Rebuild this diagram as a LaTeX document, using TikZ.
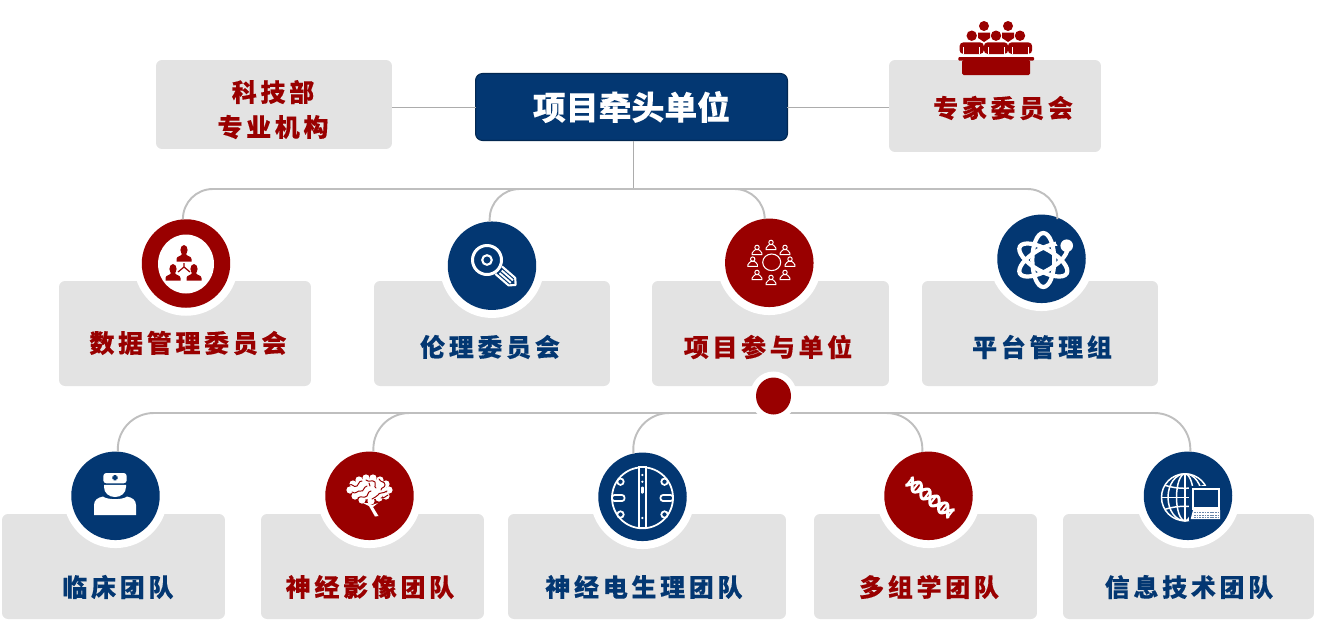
\documentclass[tikz,border=0pt]{standalone}
\usepackage{fontspec}
\usepackage{xcolor}
\usetikzlibrary{shapes.geometric}
\newfontfamily\cjkfont[BoldFeatures={FakeBold=0.15}]{Noto Sans CJK SC}
\newfontfamily\cjkwide[LetterSpace=15,BoldFeatures={FakeBold=0.25}]{Noto Sans CJK SC}
\definecolor{crimson}{HTML}{990000}
\definecolor{navy}{HTML}{033772}
\definecolor{panel}{HTML}{E3E3E3}
\definecolor{wire}{HTML}{BFBFBF}
\tikzset{
	greybox/.style={
		fill=panel,
		rounded corners=0.12cm,
		inner sep=0,
		outer sep=0
	},
	tag/.style={
		font=\fontsize{14.2}{16}\selectfont\cjkwide\bfseries,
		inner sep=0,
		text=#1
	},
	disc/.style={
		circle,
		fill=#1,
		minimum size=1.77cm,
		inner sep=0,
		outer sep=0,
		preaction={draw=white, line width=0.32cm}
	},
	thinlink/.style={draw=wire!90!black, line width=0.45pt},
	buslink/.style={draw=wire, line width=1.1pt},
	person/.pic={
		\fill (0,0) ellipse (3.6 and 5);
		\fill (-7.5,11.5) -- (-7.5,9) .. controls (-7.5,6) and (-3,6.5) .. (-2,4) -- (2,4) .. controls (3,6.5) and (7.5,6) .. (7.5,9) -- (7.5,11.5) -- cycle;
	},
	guest/.pic={
		\draw[line width=0.55pt] (0,-2.6) circle (2.2);
		\draw[line width=0.55pt] (-4.8,4.6) -- (-4.8,3) .. controls (-4.8,0.8) and (-2,1) .. (-1.6,-0.4) -- (1.6,-0.4) .. controls (2,1) and (4.8,0.8) .. (4.8,3) -- (4.8,4.6) -- cycle;
	}
}

\begin{document}
\begin{tikzpicture}[x=0.02cm,y=-0.02cm]
			\useasboundingbox (0,0) rectangle (1318,640);
			% grey panels
			\node[greybox, minimum width=4.72cm, minimum height=1.78cm] (kejibox) at (274,104.5) {};
			\node[greybox, minimum width=4.24cm, minimum height=1.84cm] (expertbox) at (995,106) {};
			\node[greybox, minimum width=5.04cm, minimum height=2.10cm] (databox) at (185,333.5) {};
			\node[greybox, minimum width=4.72cm, minimum height=2.10cm] (ethicsbox) at (492,333.5) {};
			\node[greybox, minimum width=4.74cm, minimum height=2.10cm] (unitbox) at (770.5,333.5) {};
			\node[greybox, minimum width=4.72cm, minimum height=2.10cm] (platbox) at (1040,333.5) {};
			\node[greybox, minimum width=4.46cm, minimum height=2.10cm] (clinicbox) at (113.5,566.5) {};
			\node[greybox, minimum width=4.46cm, minimum height=2.10cm] (imagebox) at (372.5,566.5) {};
			\node[greybox, minimum width=5.56cm, minimum height=2.10cm] (eegbox) at (647,566.5) {};
			\node[greybox, minimum width=4.46cm, minimum height=2.10cm] (omicsbox) at (925.5,566.5) {};
			\node[greybox, minimum width=5.02cm, minimum height=2.10cm] (infobox) at (1188.5,566.5) {};
			\node[fill=navy, draw=navy!70!black, line width=0.6pt, rounded corners=0.14cm, minimum width=6.24cm, minimum height=1.34cm, inner sep=0, outer sep=0, text=white, font=\fontsize{18.7}{22}\selectfont\cjkfont\bfseries] (lead) at (631.5,107) {项目牵头单位};
			% round badges
			\node[disc=crimson] (datadisc) at (186,263.5) {};
			\node[disc=navy] (ethicsdisc) at (492,265.7) {};
			\node[disc=crimson] (unitdisc) at (769.3,262.8) {};
			\node[disc=navy] (platdisc) at (1041.5,258.8) {};
			\node[disc=navy] (clinicdisc) at (115.5,495.8) {};
			\node[disc=crimson] (imagedisc) at (369.5,495.8) {};
			\node[disc=navy] (eegdisc) at (642.5,496.8) {};
			\node[disc=crimson] (omicsdisc) at (928.5,495.8) {};
			\node[disc=navy] (infodisc) at (1188,495.8) {};
			% connectors
			\coordinate (topbus) at (633,189);
			\coordinate (lowbus) at (773,413);
			\draw[thinlink] (lead.west) -- (lead.west -| kejibox.east);
			\draw[thinlink] (lead.east) -- (lead.east -| expertbox.west);
			\draw[thinlink] (topbus |- lead.south) -- (topbus);
			\draw[buslink, rounded corners=0.6cm] (datadisc.94) |- (topbus) -| (platdisc.69);
			\draw[buslink, rounded corners=0.6cm] (ethicsdisc.93) |- (topbus) -| (unitdisc.96);
			\draw[buslink, rounded corners=0.72cm] (clinicdisc.87) |- (lowbus) -| (infodisc.87);
			\draw[buslink, rounded corners=0.72cm] (imagedisc.85) |- (lowbus) -| (omicsdisc.98);
			\draw[buslink, rounded corners=0.72cm] (eegdisc.102) |- (lowbus);
			\node[fill=crimson, ellipse, minimum width=0.70cm, minimum height=0.74cm, inner sep=0, outer sep=0, preaction={draw=white, line width=0.24cm}] (hubdot) at (773.5,396) {};
			% labels
			\node[tag=crimson] (keji1) at (273,92) {科技部};
			\node[tag=crimson] (keji2) at (273,127) {专业机构};
			\node[tag=crimson] (expert) at (1003,108) {专家委员会};
			\node[tag=crimson] (datatag) at (188,343) {数据管理委员会};
			\node[tag=navy] (ethicstag) at (490,347) {伦理委员会};
			\node[tag=crimson] (unittag) at (768,347) {项目参与单位};
			\node[tag=navy] (plattag) at (1042,347) {平台管理组};
			\node[tag=navy] (clinictag) at (118,587) {临床团队};
			\node[tag=crimson] (imagetag) at (370,587) {神经影像团队};
			\node[tag=navy] (eegtag) at (644,587) {神经电生理团队};
			\node[tag=crimson] (omicstag) at (929,587) {多组学团队};
			\node[tag=navy] (infotag) at (1189,587) {信息技术团队};
			% expert board
			\foreach \hx in {984,1008} {
				\fill[crimson] (\hx,26) circle (5);
				\fill[crimson] (\hx-6,32.5) -- (\hx+6,32.5) -- (\hx+6,38) -- (\hx,42) -- (\hx-6,38) -- cycle;
			}
			\foreach \hx in {971.7,996,1020} {
				\fill[crimson] (\hx,35.7) circle (5.2);
				\fill[crimson, rounded corners=0.08cm] (\hx-12.2,54) -- (\hx-12.2,42.3) -- (\hx+12.2,42.3) -- (\hx+12.2,54) -- cycle;
				\draw[white, line width=0.4pt] (\hx-8,54) -- (\hx-8,47);
				\draw[white, line width=0.4pt] (\hx+8,54) -- (\hx+8,47);
			}
			\fill[crimson, rounded corners=0.02cm] (958.3,57) rectangle (1034,60.7);
			\fill[crimson, rounded corners=0.03cm] (962,60) rectangle (1030,75);
			% data icon
			\fill[white] (186,264) ellipse (28 and 29.5);
			\pic[color=crimson] at (184,250) {person};
			\pic[color=crimson] at (173,269) {person};
			\pic[color=crimson] at (194,269) {person};
			\draw[crimson, line width=0.7pt] (184,263) -- (184,267) -- (178,272) (184,267) -- (190,272);
			% key icon
			\draw[white, line width=1.7pt] (487,260) circle (14.5);
			\draw[white, line width=1.2pt] (487,260) circle (4.8);
			\begin{scope}[shift={(487,260)}, rotate=-41]
				\draw[white, line width=1.2pt, line join=round] (15.5,-5) -- (33,-5) -- (38,0) -- (33,5) -- (15.5,5);
				\draw[white, line width=1.1pt] (18,-1.7) -- (33,-1.7) (18,1.7) -- (33,1.7);
			\end{scope}
			% circle of members icon
			\draw[white, line width=0.6pt] (771.7,262.3) ellipse (9 and 8.3);
			\foreach \gx/\gy in {771/245, 771/280, 752.7/261.7, 790/261.7, 757/250, 785/250, 757/275, 785/275} {
				\pic[color=white] at (\gx,\gy) {guest};
			}
			% atom icon
			\begin{scope}[shift={(1043.3,260)}]
				\foreach \turn in {0,60,120} {
					\draw[white, line width=2.4pt, rotate=\turn] (0,0) ellipse (11 and 27);
				}
			\end{scope}
			\fill[navy] (1064.5,240) circle (9);
			\fill[white] (1066.7,245.7) circle (6.3);
			% doctor icon
			\fill[white, rounded corners=0.06cm] (103.3,483.3) -- (103.3,473) -- (126.7,473) -- (126.7,483.3) -- cycle;
			\fill[navy] (113.6,475) rectangle (116.4,480.4) (112.3,476.3) rectangle (117.7,479.1);
			\fill[white] (104,484.8) -- (126,484.8) -- (126,487) .. controls (126,493) and (121,497) .. (115,497) .. controls (109,497) and (104,493) .. (104,487) -- cycle;
			\fill[white] (94,515) -- (94,505) .. controls (94,500) and (98,497.5) .. (103,496.5) .. controls (107,500) and (123,500) .. (127,496.5) .. controls (132,497.5) and (136,500) .. (136,505) -- (136,515) -- cycle;
			% brain icon
			\foreach \bx/\by in {350/490, 353/484, 359/480, 366/478, 373/478, 380/480, 386/484, 389/490, 386/496, 379/498, 371/501, 362/500, 355/496} {
				\fill[white] (\bx,\by) circle (3.6);
			}
			\fill[white] (369,489) ellipse (18 and 10.5);
			\begin{scope}[crimson, line width=0.55pt, line cap=round]
				\draw (349,485) .. controls (353,483) and (353,488) .. (357,486) .. controls (360,484) and (358,481) .. (362,481);
				\draw (352,492) .. controls (356,495) and (357,490) .. (361,491) .. controls (364,492) and (363,487) .. (367,486);
				\draw (358,498) .. controls (361,495) and (364,499) .. (367,496) .. controls (369,494) and (367,492) .. (371,491);
				\draw (366,480) .. controls (369,483) and (372,479) .. (375,482) .. controls (377,485) and (373,486) .. (376,488);
				\draw (379,479) .. controls (381,483) and (385,481) .. (385,485) .. controls (385,488) and (381,487) .. (381,490);
				\draw (372,499) .. controls (374,496) and (377,498) .. (378,495) .. controls (379,492) and (383,494) .. (387,491);
				\draw (388,495) .. controls (385,496) and (384,499) .. (381,498);
				\draw (369,483) -- (370,486);
			\end{scope}
			\fill[white] (363,503) -- (368,503) -- (372,505) -- (378,503) -- (373,507) -- (378.5,516) -- (375,516.5) -- (369,506) -- cycle;
			% electrode icon
			\draw[white, line width=1pt] (642.5,497.8) circle (30.5);
			\fill[navy, draw=white, line width=1pt] (639,467.3) rectangle (646,528.3);
			\foreach \ny in {481.7,514.5} {
				\draw[white, line width=1pt, fill=navy] (620.5,\ny) circle (3.2);
				\draw[white, line width=1pt, fill=navy] (664.5,\ny) circle (3.2);
			}
			\draw[white, line width=1pt, fill=navy, rounded corners=0.05cm] (612,495) rectangle (624.5,501);
			\draw[white, line width=1pt, fill=navy, rounded corners=0.05cm] (660.5,495) rectangle (673,501);
			\foreach \ny in {475,481.7,518} {
				\fill[white] (642.4,\ny) circle (1.2);
			}
			\fill[white, rounded corners=0.02cm] (641,486.5) rectangle (643.8,493.5);
			% helix icon
			\begin{scope}[shift={(930,497.5)}, rotate=-38]
				\foreach \sgn in {1,-1} {
					\draw[white, line width=1.7pt] plot[domain=-27:27, samples=50] (\x,{\sgn*5.6*sin(\x*16)});
				}
				\foreach \rx in {-26,-22,-18,-14,-4,0.01,4,14,18,22,26} {
					\draw[white, line width=1.1pt] (\rx,{-5.6*cos(\rx*16-90)}) -- (\rx,{5.6*cos(\rx*16-90)});
				}
			\end{scope}
			% globe and laptop icon
			\begin{scope}[shift={(1185,497.3)}, white, line width=0.85pt]
				\draw (0,0) circle (23.5);
				\draw (0,0) ellipse (8.5 and 23.5);
				\draw (0,0) ellipse (17 and 23.5);
				\draw (0,-23.5) -- (0,23.5);
				\draw (-23.5,0) -- (23.5,0);
				\draw (-20,-12) .. controls (-8,-8) and (8,-8) .. (20,-12);
				\draw (-20,12) .. controls (-8,8) and (8,8) .. (20,12);
			\end{scope}
			\fill[navy] (1189,486) rectangle (1222,521);
			\fill[white] (1191.7,488.3) rectangle (1220,510);
			\fill[navy] (1193.5,490) rectangle (1218.2,507);
			\fill[white] (1193,510) -- (1220,510) -- (1220,519) -- (1190.7,519) -- cycle;
			\foreach \ky in {512.5,515,517.3} {
				\draw[navy!60!white, line width=0.55pt, dash pattern=on 1pt off 0.5pt] (1194,\ky) -- (1218.5,\ky);
			}
\end{tikzpicture}
\end{document}
